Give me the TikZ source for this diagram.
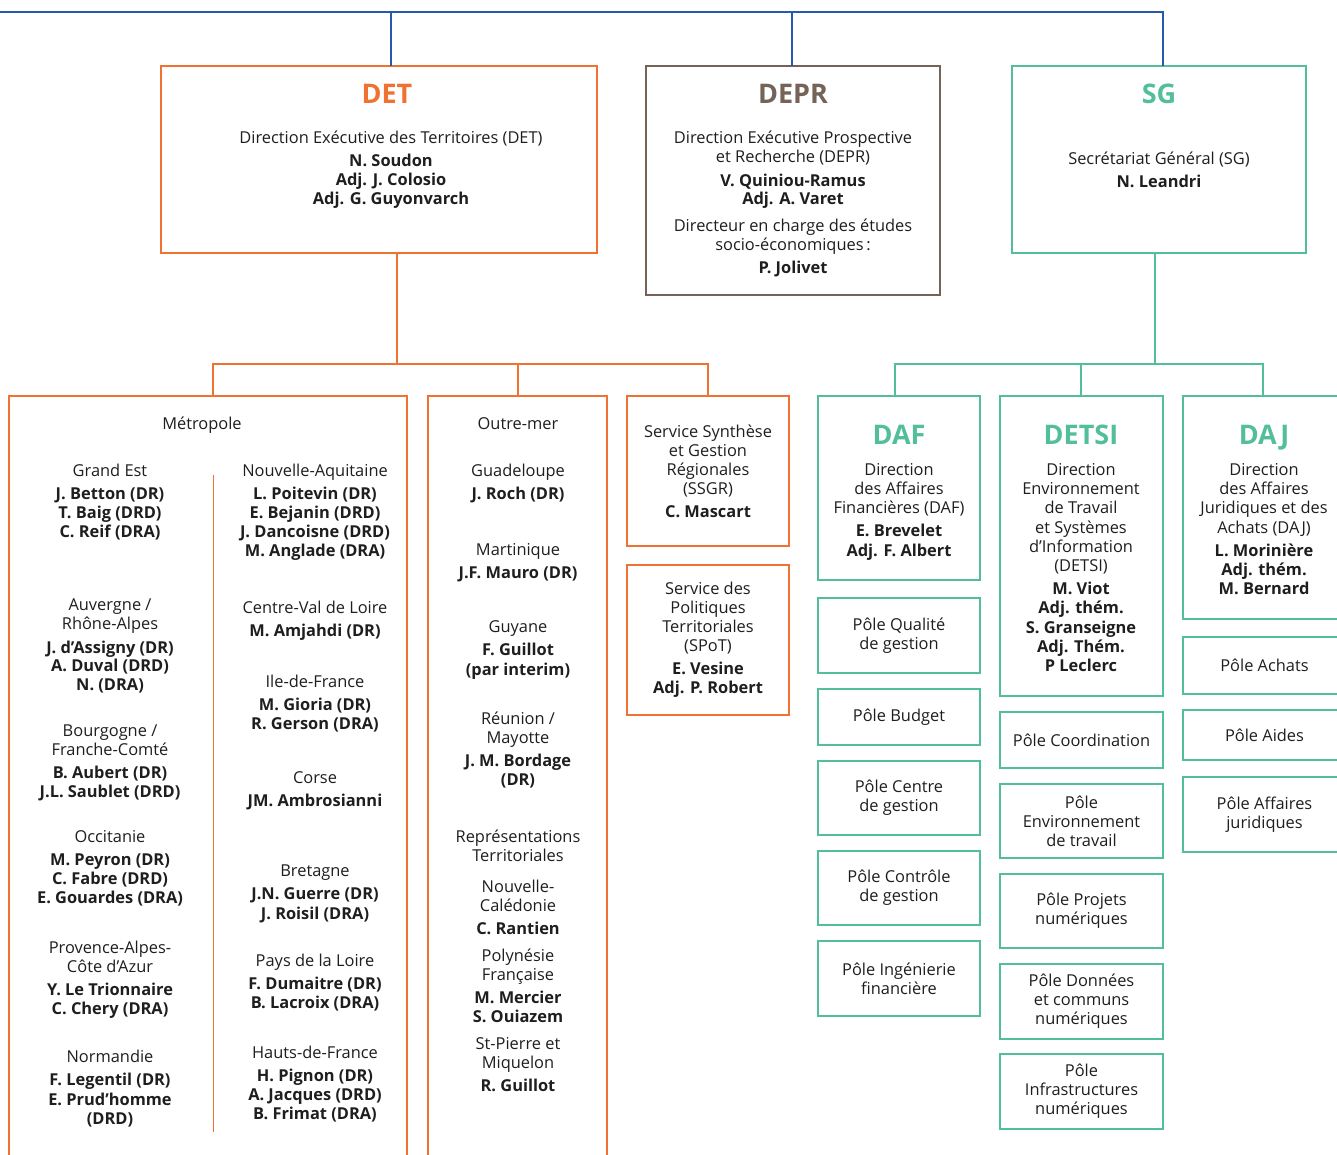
\documentclass[tikz,border=0pt]{standalone}
\usepackage{fontspec}
\setmainfont{Open Sans}
\definecolor{anctblue}{HTML}{2459AE}
\definecolor{anctorange}{HTML}{EF7233}
\definecolor{anctbrown}{HTML}{766357}
\definecolor{anctgreen}{HTML}{52BE9C}
\definecolor{anctink}{HTML}{1E1E1E}
\newcommand{\bodysize}{\fontsize{16.4pt}{19pt}\selectfont}
\newcommand{\titlesize}{\fontsize{27pt}{30pt}\selectfont\bfseries}
\tikzset{
  box/.style={draw, line width=1.5pt, inner sep=0pt, outer sep=0pt, anchor=north west,
    align=center, font=\bodysize, text=anctink},
  dim/.style 2 args={minimum width=#1pt, minimum height=#2pt},
  ln/.style={font=\bodysize, anchor=base, inner sep=0pt, yshift=-6pt, text=anctink},
  ttl/.style={font=\titlesize, anchor=base, inner sep=0pt, yshift=-9.7pt},
  link/.style={line width=1.3pt},
}
\begin{document}
\begin{tikzpicture}[x=1pt,y=-1pt]
\useasboundingbox (0,0) rectangle (1337,1155);
\clip (0,0) rectangle (1337,1155);
% top level boxes
\node[box, draw=anctorange, dim={436}{187}] (DET) at (161,66) {};
\node[box, draw=anctbrown, dim={294}{229}] (DEPR) at (646,66) {};
\node[box, draw=anctgreen, dim={294}{187}] (SG) at (1012,66) {};
% blue bus
\coordinate (bus0) at (0,12);
\coordinate (busdet) at (391,12);
\coordinate (busdepr) at (792,12);
\coordinate (bussg) at (1163,12);
\draw[link, anctblue] (bus0) -- (bussg) -- (bussg |- SG.north);
\draw[link, anctblue] (busdet) -- (busdet |- DET.north);
\draw[link, anctblue] (busdepr) -- (busdepr |- DEPR.north);
% DET
\node[ttl, anctorange] (detttl) at (387,94) {DET};
\foreach \y/\t in {138/Direction Exécutive des Territoires (DET), 161/\textbf{N. Soudon},
  180/\textbf{Adj. J. Colosio}, 199/\textbf{Adj. G. Guyonvarch}}
  \node[ln] (det\y) at (391,\y) {\t};
% DEPR
\node[ttl, anctbrown] (deprttl) at (793,94) {DEPR};
\foreach \y/\t in {138/Direction Exécutive Prospective, 157/et Recherche (DEPR),
  181/\textbf{V. Quiniou-Ramus}, 199/\textbf{Adj. A. Varet}, 226/Directeur en charge des études,
  245/socio-économiques\,:, 268/\textbf{P. Jolivet}}
  \node[ln] (depr\y) at (793,\y) {\t};
% SG
\node[ttl, anctgreen] (sgttl) at (1159,94) {SG};
\foreach \y/\t in {159/Secrétariat Général (SG), 182/\textbf{N. Leandri}}
  \node[ln] (sg\y) at (1159,\y) {\t};
% DET branch
\node[box, draw=anctorange, dim={398}{800}] (MET) at (9,396) {};
\node[box, draw=anctorange, dim={179}{800}] (OM) at (428,396) {};
\node[box, draw=anctorange, dim={162}{150}] (SSGR) at (627,396)
  {Service Synthèse\\et Gestion\\Régionales\\(SSGR)\\[4pt]\textbf{C. Mascart}};
\node[box, draw=anctorange, dim={162}{150}] (SPOT) at (627,565)
  {Service des\\Politiques\\Territoriales\\(SPoT)\\[4pt]\textbf{E. Vesine}\\\textbf{Adj. P. Robert}};
\coordinate (detbus) at (397,364);
\coordinate (detl) at (213,364);
\coordinate (detm) at (518,364);
\draw[link, anctorange] (DET.south -| detbus) -- (detbus);
\draw[link, anctorange] (MET.north -| detl) -- (detl) -- (detl -| SSGR.north) -- (SSGR.north);
\draw[link, anctorange] (detm) -- (OM.north -| detm);
% Metropole
\coordinate (sep1) at (213,475);
\coordinate (sep2) at (213,1132);
\draw[line width=1pt, anctorange] (sep1) -- (sep2);
\node[ln] (metttl) at (202,423) {Métropole};
\foreach \y/\t in {470/Grand Est, 493/\textbf{J. Betton (DR)}, 512/\textbf{T. Baig (DRD)},
  531/\textbf{C. Reif (DRA)}, 604/{Auvergne /}, 623/Rhône-Alpes, 647/\textbf{J. d’Assigny (DR)},
  665/\textbf{A. Duval (DRD)}, 684/\textbf{N. (DRA)}, 730/{Bourgogne /}, 749/Franche-Comté,
  772/\textbf{B. Aubert (DR)}, 791/\textbf{J.L. Saublet (DRD)}, 836/Occitanie,
  859/\textbf{M. Peyron (DR)}, 878/\textbf{C. Fabre (DRD)}, 897/\textbf{E. Gouardes (DRA)},
  947/Provence-Alpes-, 966/Côte d’Azur, 989/\textbf{Y. Le Trionnaire}, 1008/\textbf{C. Chery (DRA)},
  1056/Normandie, 1079/\textbf{F. Legentil (DR)}, 1099/\textbf{E. Prud’homme}, 1118/\textbf{(DRD)}}
  \node[ln] (metl\y) at (110,\y) {\t};
\foreach \y/\t in {470/Nouvelle-Aquitaine, 493/\textbf{L. Poitevin (DR)}, 512/\textbf{E. Bejanin (DRD)},
  531/\textbf{J. Dancoisne (DRD)}, 550/\textbf{M. Anglade (DRA)}, 607/Centre-Val de Loire,
  630/\textbf{M. Amjahdi (DR)}, 681/Ile-de-France, 704/\textbf{M. Gioria (DR)},
  723/\textbf{R. Gerson (DRA)}, 777/Corse, 800/\textbf{JM. Ambrosianni}, 870/Bretagne,
  893/\textbf{J.N. Guerre (DR)}, 913/\textbf{J. Roisil (DRA)}, 960/Pays de la Loire,
  983/\textbf{F. Dumaitre (DR)}, 1002/\textbf{B. Lacroix (DRA)}, 1052/Hauts-de-France,
  1075/\textbf{H. Pignon (DR)}, 1094/\textbf{A. Jacques (DRD)}, 1113/\textbf{B. Frimat (DRA)}}
  \node[ln] (metr\y) at (315,\y) {\t};
% Outre-mer
\foreach \y/\t in {423/Outre-mer, 470/Guadeloupe, 493/\textbf{J. Roch (DR)}, 549/Martinique,
  572/\textbf{J.F. Mauro (DR)}, 626/Guyane, 649/\textbf{F. Guillot}, 669/\textbf{(par interim)},
  718/{Réunion /}, 737/Mayotte, 760/\textbf{J. M. Bordage}, 779/\textbf{(DR)},
  836/Représentations, 855/Territoriales, 886/Nouvelle-, 905/Calédonie, 928/\textbf{C. Rantien},
  955/Polynésie, 974/Française, 997/\textbf{M. Mercier}, 1016/\textbf{S. Ouiazem},
  1043/St-Pierre et, 1062/Miquelon, 1085/\textbf{R. Guillot}}
  \node[ln] (om\y) at (518,\y) {\t};
% SG branch
\node[box, draw=anctgreen, dim={162}{184}] (DAF) at (818,396) {};
\node[box, draw=anctgreen, dim={163}{300}] (DETSI) at (1000,396) {};
\node[box, draw=anctgreen, dim={163}{223}] (DAJ) at (1183,396) {};
\coordinate (sgbus) at (1155,364);
\coordinate (sgl) at (895,364);
\coordinate (sgm) at (1081,364);
\coordinate (sgr) at (1263,364);
\draw[link, anctgreen] (SG.south -| sgbus) -- (sgbus);
\draw[link, anctgreen] (DAF.north -| sgl) -- (sgl) -- (sgr) -- (DAJ.north -| sgr);
\draw[link, anctgreen] (sgm) -- (DETSI.north -| sgm);
\node[ttl, anctgreen] (dafttl) at (899,435) {DAF};
\foreach \y/\t in {469/Direction, 488/des Affaires, 507/Financières (DAF),
  530/\textbf{E. Brevelet}, 550/\textbf{Adj. F. Albert}}
  \node[ln] (daf\y) at (899,\y) {\t};
\node[ttl, anctgreen] (detsittl) at (1081,435) {DETSI};
\foreach \y/\t in {469/Direction, 488/Environnement, 507/de Travail, 527/et Systèmes,
  546/d'Information, 565/(DETSI), 588/\textbf{M. Viot}, 607/\textbf{Adj. thém.},
  627/\textbf{S. Granseigne}, 646/\textbf{Adj. Thém.}, 665/\textbf{P Leclerc}}
  \node[ln] (detsi\y) at (1081,\y) {\t};
\node[ttl, anctgreen] (dajttl) at (1264,435) {DAJ};
\foreach \y/\t in {469/Direction, 488/des Affaires, 507/Juridiques et des, 527/Achats (DAJ),
  550/\textbf{L. Morinière}, 569/\textbf{Adj. thém.}, 588/\textbf{M. Bernard}}
  \node[ln] (daj\y) at (1264,\y) {\t};
% poles
\node[box, draw=anctgreen, dim={162}{75}] (pqual) at (818,598) {Pôle Qualité\\de gestion};
\node[box, draw=anctgreen, dim={162}{56}] (pbudget) at (818,689) {Pôle Budget};
\node[box, draw=anctgreen, dim={162}{74}] (pcentre) at (818,761) {Pôle Centre\\de gestion};
\node[box, draw=anctgreen, dim={162}{74}] (pcontrole) at (818,851) {Pôle Contrôle\\de gestion};
\node[box, draw=anctgreen, dim={162}{75}] (pinge) at (818,941) {Pôle Ingénierie\\financière};
\node[box, draw=anctgreen, dim={163}{56}] (pcoord) at (1000,712) {Pôle Coordination};
\node[box, draw=anctgreen, dim={163}{74}] (penv) at (1000,784) {Pôle\\Environnement\\de travail};
\node[box, draw=anctgreen, dim={163}{74}] (pprojets) at (1000,874) {Pôle Projets\\numériques};
\node[box, draw=anctgreen, dim={163}{75}] (pdonnees) at (1000,964) {Pôle Données\\et communs\\numériques};
\node[box, draw=anctgreen, dim={163}{75}] (pinfra) at (1000,1054) {Pôle\\Infrastructures\\numériques};
\node[box, draw=anctgreen, dim={163}{57}] (pachats) at (1183,637) {Pôle Achats};
\node[box, draw=anctgreen, dim={163}{50}] (paides) at (1183,710) {Pôle Aides};
\node[box, draw=anctgreen, dim={163}{75}] (pjur) at (1183,777) {Pôle Affaires\\juridiques};
\end{tikzpicture}
\end{document}
